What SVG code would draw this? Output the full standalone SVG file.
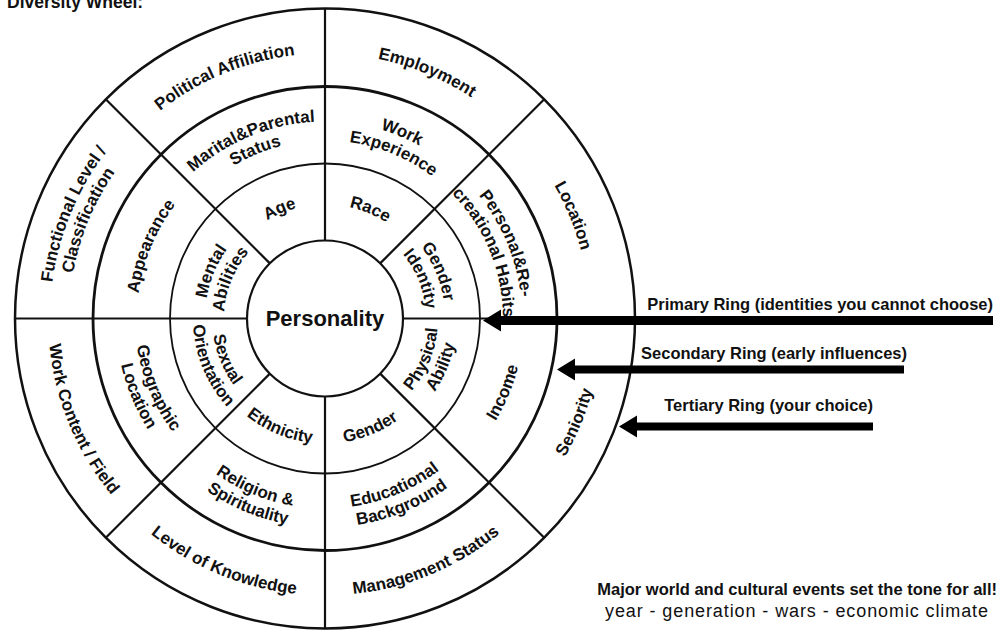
<svg xmlns="http://www.w3.org/2000/svg" width="1005" height="631" viewBox="0 0 1005 631">
  <style>
    .ring { fill: none; stroke: #111; }
    .spoke { stroke: #111; stroke-width: 2.2; fill: none; }
    .lbl { font-family: "Liberation Sans", Arial, Helvetica, sans-serif; font-weight: bold; font-size: 17px; fill: #111; text-anchor: middle; }
    .note { font-family: "Liberation Sans", Arial, Helvetica, sans-serif; font-weight: bold; font-size: 16.5px; fill: #111; }
    .sub { font-family: "Liberation Sans", Arial, Helvetica, sans-serif; font-size: 18px; fill: #111; }
    .shaft { stroke: #000; fill: none; }
  </style>
  <defs>
    <!-- arcs for labels whose tops face outward (upper half, centred at the top) -->
    <path id="t101" d="M237.53,268 A101,101 0 0 1 412.47,268"/>
    <path id="t114" d="M226.28,261.5 A114,114 0 0 1 423.72,261.5"/>
    <path id="t120" d="M221.08,258.5 A120,120 0 0 1 428.92,258.5"/>
    <path id="t178" d="M170.85,229.5 A178,178 0 0 1 479.15,229.5"/>
    <path id="t188" d="M162.19,224.5 A188,188 0 0 1 487.81,224.5"/>
    <path id="t197" d="M154.4,220 A197,197 0 0 1 495.6,220"/>
    <path id="t256" d="M103.3,190.5 A256,256 0 0 1 546.7,190.5"/>
    <path id="t265" d="M95.51,186 A265,265 0 0 1 554.49,186"/>
    <path id="t275" d="M86.85,181 A275,275 0 0 1 563.15,181"/>
    <!-- arcs for labels whose tops face the centre (lower half, centred at the bottom) -->
    <path id="b113" d="M227.14,375 A113,113 0 0 0 422.86,375"/>
    <path id="b125" d="M216.75,381 A125,125 0 0 0 433.25,381"/>
    <path id="b132" d="M210.69,384.5 A132,132 0 0 0 439.31,384.5"/>
    <path id="b190" d="M160.46,413.5 A190,190 0 0 0 489.54,413.5"/>
    <path id="b199" d="M152.67,418 A199,199 0 0 0 497.33,418"/>
    <path id="b209" d="M144,423 A209,209 0 0 0 506,423"/>
    <path id="b277" d="M85.12,457 A277,277 0 0 0 564.88,457"/>
    <marker id="head" markerUnits="userSpaceOnUse" markerWidth="20" markerHeight="24" refX="1" refY="11" orient="auto">
      <path d="M0,0 L18,11 L0,22 z" fill="#000"/>
    </marker>
  </defs>

  <rect width="1005" height="631" fill="#fff"/>

  <text class="note" x="7" y="8" style="font-size:17.5px">Diversity Wheel:</text>

  <!-- wheel rings and spokes -->
  <g id="wheel">
    <circle class="ring" cx="325" cy="318.5" r="310" stroke-width="2.5"/>
    <circle class="ring" cx="325" cy="318.5" r="232" stroke-width="2.8"/>
    <circle class="ring" cx="325" cy="318.5" r="155" stroke-width="1.8"/>
    <line class="spoke" x1="403" y1="318.5" x2="635" y2="318.5"/>
    <line class="spoke" x1="247" y1="318.5" x2="15" y2="318.5"/>
    <line class="spoke" x1="325" y1="240.5" x2="325" y2="8.5"/>
    <line class="spoke" x1="325" y1="396.5" x2="325" y2="628.5"/>
    <line class="spoke" x1="380.15" y1="263.35" x2="544.2" y2="99.3"/>
    <line class="spoke" x1="269.85" y1="263.35" x2="105.8" y2="99.3"/>
    <line class="spoke" x1="269.85" y1="373.65" x2="105.8" y2="537.7"/>
    <line class="spoke" x1="380.15" y1="373.65" x2="544.2" y2="537.7"/>
  </g>

  <!-- centre -->
  <g id="personality">
    <circle class="ring" cx="325" cy="318.5" r="78" stroke-width="2.2" fill="#fff"/>
    <text class="lbl" x="325" y="326" style="font-size:22px">Personality</text>
  </g>

  <!-- primary ring -->
  <g id="age" transform="rotate(-22.5 325 318.5)"><text class="lbl"><textPath href="#t114" startOffset="50%">Age</textPath></text></g>
  <g id="race" transform="rotate(22.5 325 318.5)"><text class="lbl"><textPath href="#t114" startOffset="50%">Race</textPath></text></g>
  <g id="gender-identity" transform="rotate(67.5 325 318.5)">
    <text class="lbl"><textPath href="#t120" startOffset="50%">Gender</textPath></text>
    <text class="lbl"><textPath href="#t101" startOffset="50%">Identity</textPath></text>
  </g>
  <g id="mental-abilities" transform="rotate(-67.5 325 318.5)">
    <text class="lbl"><textPath href="#t120" startOffset="50%">Mental</textPath></text>
    <text class="lbl"><textPath href="#t101" startOffset="50%">Abilities</textPath></text>
  </g>
  <g id="sexual-orientation" transform="rotate(67.5 325 318.5)">
    <text class="lbl"><textPath href="#b113" startOffset="50%">Sexual</textPath></text>
    <text class="lbl"><textPath href="#b132" startOffset="50%">Orientation</textPath></text>
  </g>
  <g id="ethnicity" transform="rotate(22.5 325 318.5)"><text class="lbl"><textPath href="#b125" startOffset="50%">Ethnicity</textPath></text></g>
  <g id="gender" transform="rotate(-22.5 325 318.5)"><text class="lbl"><textPath href="#b125" startOffset="50%">Gender</textPath></text></g>
  <g id="physical-ability" transform="rotate(-67.5 325 318.5)">
    <text class="lbl"><textPath href="#b113" startOffset="50%">Physical</textPath></text>
    <text class="lbl"><textPath href="#b132" startOffset="50%">Ability</textPath></text>
  </g>

  <!-- secondary ring -->
  <g id="marital-status" transform="rotate(-22.5 325 318.5)">
    <text class="lbl"><textPath href="#t197" startOffset="50%">Marital&amp;Parental</textPath></text>
    <text class="lbl"><textPath href="#t178" startOffset="50%">Status</textPath></text>
  </g>
  <g id="work-experience" transform="rotate(22.5 325 318.5)">
    <text class="lbl"><textPath href="#t197" startOffset="50%">Work</textPath></text>
    <text class="lbl"><textPath href="#t178" startOffset="50%">Experience</textPath></text>
  </g>
  <g id="habits" transform="rotate(67.5 325 318.5)">
    <text class="lbl"><textPath href="#t197" startOffset="50%">Personal&amp;Re-</textPath></text>
    <text class="lbl"><textPath href="#t178" startOffset="50%">creational Habits</textPath></text>
  </g>
  <g id="appearance" transform="rotate(-67.5 325 318.5)"><text class="lbl"><textPath href="#t188" startOffset="50%">Appearance</textPath></text></g>
  <g id="geographic-location" transform="rotate(67.5 325 318.5)">
    <text class="lbl"><textPath href="#b190" startOffset="50%">Geographic</textPath></text>
    <text class="lbl"><textPath href="#b209" startOffset="50%">Location</textPath></text>
  </g>
  <g id="religion" transform="rotate(22.5 325 318.5)">
    <text class="lbl"><textPath href="#b190" startOffset="50%">Religion &amp;</textPath></text>
    <text class="lbl"><textPath href="#b209" startOffset="50%">Spirituality</textPath></text>
  </g>
  <g id="education" transform="rotate(-22.5 325 318.5)">
    <text class="lbl"><textPath href="#b190" startOffset="50%">Educational</textPath></text>
    <text class="lbl"><textPath href="#b209" startOffset="50%">Background</textPath></text>
  </g>
  <g id="income" transform="rotate(-67.5 325 318.5)"><text class="lbl"><textPath href="#b199" startOffset="50%">Income</textPath></text></g>

  <!-- tertiary ring -->
  <g id="political" transform="rotate(-22.5 325 318.5)"><text class="lbl"><textPath href="#t265" startOffset="50%">Political Affiliation</textPath></text></g>
  <g id="employment" transform="rotate(22.5 325 318.5)"><text class="lbl"><textPath href="#t265" startOffset="50%">Employment</textPath></text></g>
  <g id="location" transform="rotate(67.5 325 318.5)"><text class="lbl"><textPath href="#t265" startOffset="50%">Location</textPath></text></g>
  <g id="functional-level" transform="rotate(-67.5 325 318.5)">
    <text class="lbl"><textPath href="#t275" startOffset="50%">Functional Level /</textPath></text>
    <text class="lbl"><textPath href="#t256" startOffset="50%">Classification</textPath></text>
  </g>
  <g id="work-content" transform="rotate(67.5 325 318.5)"><text class="lbl"><textPath href="#b277" startOffset="50%">Work Content / Field</textPath></text></g>
  <g id="knowledge" transform="rotate(22.5 325 318.5)"><text class="lbl"><textPath href="#b277" startOffset="50%">Level of Knowledge</textPath></text></g>
  <g id="management" transform="rotate(-22.5 325 318.5)"><text class="lbl"><textPath href="#b277" startOffset="50%">Management Status</textPath></text></g>
  <g id="seniority" transform="rotate(-67.5 325 318.5)"><text class="lbl"><textPath href="#b277" startOffset="50%">Seniority</textPath></text></g>

  <!-- ring pointers -->
  <g id="connectors">
    <line class="shaft" x1="993" y1="320.5" x2="500" y2="320.5" stroke-width="9" marker-end="url(#head)"/>
    <line class="shaft" x1="904" y1="369.5" x2="574" y2="369.5" stroke-width="8" marker-end="url(#head)"/>
    <line class="shaft" x1="873" y1="426.5" x2="636" y2="426.5" stroke-width="8" marker-end="url(#head)"/>
  </g>

  <g id="ring-notes">
    <text class="note" x="993" y="309.5" text-anchor="end">Primary Ring (identities you cannot choose)</text>
    <text class="note" x="907" y="358.5" text-anchor="end">Secondary Ring (early influences)</text>
    <text class="note" x="873" y="410.5" text-anchor="end">Tertiary Ring (your choice)</text>
  </g>

  <g id="footer">
    <text class="note" x="997" y="595" text-anchor="end">Major world and cultural events set the tone for all!</text>
    <text class="sub" x="605" y="617" textLength="383" lengthAdjust="spacing">year - generation - wars - economic climate</text>
  </g>
</svg>
